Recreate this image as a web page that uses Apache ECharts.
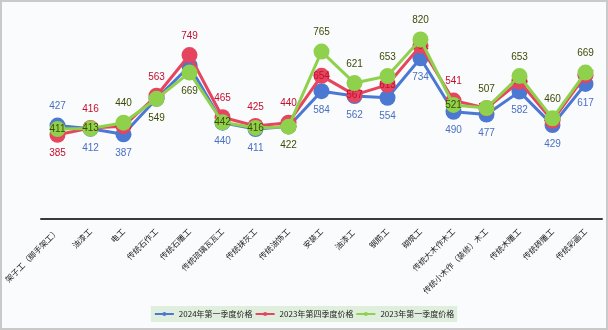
<!DOCTYPE html>
<html><head><meta charset="utf-8">
<script src="https://cdn.jsdelivr.net/npm/echarts@6/dist/echarts.min.js"></script>
<style>
html,body{margin:0;padding:0;background:#fff;}
#c{width:608px;height:330px;box-sizing:border-box;border:2px solid #c9c9c9;background:#fafbfc;}
</style></head>
<body><div id="c"></div>
<script>
var categories = ["架子工（脚手架工）","油漆工","电工","传统石作工","传统石雕工","传统琉璃瓦瓦工","传统抹灰工","传统油饰工","安装工","油漆工 ","钢筋工","砌筑工","传统大木作木工","传统小木作（装修）木工","传统木雕工","传统砖雕工","传统彩画工"];
var seriesNames = ["2024年第一季度价格","2023年第四季度价格","2023年第一季度价格"];
var s2024q1 = [427,412,387,549,699,440,411,423,584,562,554,734,490,477,582,429,617];
var s2023q4 = [385,416,424,563,749,465,425,440,654,567,613,791,541,506,628,449,657];
var s2023q1 = [411,413,440,549,669,442,416,422,765,621,653,820,521,507,653,460,669];

var lineColors = ["#4a78d2","#e5455f","#8fd14c"];
var labelColors = ["#4a6fc4","#c4102e","#3d4a06"];
var all = [s2024q1, s2023q4, s2023q1];

function buildData(si){
  return all[si].map(function(v,i){
    var vals = all.map(function(a){return a[i];});
    var rank = 0;
    for (var k=0;k<3;k++){ if (k!==si){ if (vals[k] < v || (vals[k]===v && k>si)) rank++; } }
    var pos = rank===2 ? 'top' : (rank===0 ? 'bottom' : 'inside');
    return {value:v, label:{position:pos}};
  });
}

var chart = echarts.init(document.getElementById('c'));
chart.setOption({
  animation:false,
  grid:{left:39,right:4,top:20,bottom:109,outerBoundsMode:'none',containLabel:false},
  legend:{
    bottom:6, left:'center',
    backgroundColor:'#dfeedd',
    padding:[4,3],
    itemWidth:19,itemHeight:5,itemGap:2,
    textStyle:{fontSize:8,color:'#222',fontFamily:'Noto Sans CJK SC'},
    data:seriesNames
  },
  xAxis:{
    type:'category',
    data:categories,
    boundaryGap:true,
    axisLine:{lineStyle:{color:'#3a3a3a',width:2}},
    axisTick:{show:false},
    axisLabel:{rotate:45,fontSize:8,color:'#222',interval:0,margin:11,fontFamily:'Noto Sans CJK SC'}
  },
  yAxis:{type:'value',min:0,max:900,show:false,splitLine:{show:false}},
  series:seriesNames.map(function(n,si){
    return {
      name:n,type:'line',
      data:buildData(si),
      symbol:'circle',symbolSize:16,
      lineStyle:{width:3,color:lineColors[si]},
      itemStyle:{color:lineColors[si]},
      z:2+si,
      label:{show:true,fontSize:10,color:labelColors[si],distance:6,fontFamily:'Liberation Sans'}
    };
  })
});
</script></body></html>
